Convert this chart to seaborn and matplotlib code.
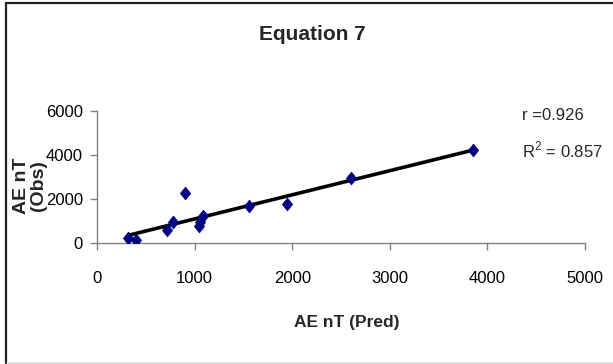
import numpy as np
import pandas as pd
import matplotlib
matplotlib.use("Agg")
import matplotlib.pyplot as plt
from matplotlib.lines import Line2D
import seaborn as sns

# Predicted vs observed AE (nT)
ae_pred = [320, 400, 715, 775, 905, 1040, 1060, 1090, 1560, 1950, 2600, 3850]
ae_obs = [250, 130, 580, 950, 2290, 760, 960, 1220, 1700, 1760, 2970, 4230]
x_ticks = [0, 1000, 2000, 3000, 4000, 5000]
y_ticks = [0, 2000, 4000, 6000]
r_text = "r =0.926"
r2_text = "R$^{2}$ = 0.857"

df = pd.DataFrame({"pred": ae_pred, "obs": ae_obs})

sns.set_theme(style="white")
plt.rcParams["font.family"] = ["Liberation Sans", "DejaVu Sans"]
plt.rcParams["mathtext.fontset"] = "custom"
plt.rcParams["mathtext.rm"] = "Liberation Sans"

W, H = 613, 364
fig = plt.figure(figsize=(W / 100, H / 100), dpi=100)
fig.patch.set_facecolor("white")
ax = fig.add_axes([97 / W, 1 - 243 / H, (585 - 97) / W, (243 - 111) / H])

diamond = [(0, 1), (0.8, 0), (0, -1), (-0.8, 0), (0, 1)]
sns.regplot(data=df, x="pred", y="obs", ax=ax, scatter=False, ci=None,
            truncate=True, line_kws=dict(color="black", lw=2.6, zorder=2))
sns.scatterplot(data=df, x="pred", y="obs", ax=ax, marker=diamond, s=85,
                color="#000080", edgecolor="#000080", linewidth=0.5, zorder=3)

ax.set_xlim(0, 5000)
ax.set_ylim(0, 6000)
ax.set_xticks(x_ticks)
ax.set_yticks(y_ticks)
ax.tick_params(axis="both", which="major", direction="out", length=5,
               width=1, color="#808080", labelsize=12,
               bottom=True, left=True, labelcolor="black")
ax.tick_params(axis="x", pad=15)
ax.tick_params(axis="y", pad=5)
for side in ("top", "right"):
    ax.spines[side].set_visible(False)
for side in ("left", "bottom"):
    ax.spines[side].set_color("#808080")
    ax.spines[side].set_linewidth(1)
ax.grid(False)
ax.set_xlabel("")
ax.set_ylabel("")

fig.text(312 / W, 1 - 35 / H, "Equation 7", ha="center", va="center",
         fontsize=15, fontweight="bold")
fig.text(347 / W, 1 - 322 / H, "AE nT (Pred)", ha="center", va="center",
         fontsize=12.5, fontweight="bold")
fig.text(30 / W, 1 - 186 / H, "AE nT\n(Obs)", ha="center", va="center",
         rotation=90, fontsize=14, fontweight="bold", linespacing=0.95,
         multialignment="center")
fig.text(522 / W, 1 - 115 / H, r_text, ha="left", va="center", fontsize=12)
fig.text(522 / W, 1 - 150 / H, r2_text, ha="left", va="center", fontsize=12)

# outer chart frame
fig.add_artist(Line2D([6 / W, 6 / W], [0.5 / H, 1 - 3 / H], color="#222222", lw=1.6))
fig.add_artist(Line2D([6 / W, 1.0], [1 - 3 / H, 1 - 3 / H], color="#222222", lw=1.6))
fig.add_artist(Line2D([7 / W, 1.0], [1.5 / H, 1.5 / H], color="#d8d8d8", lw=1.2))

fig.savefig("out.png", dpi=100, facecolor="white")
